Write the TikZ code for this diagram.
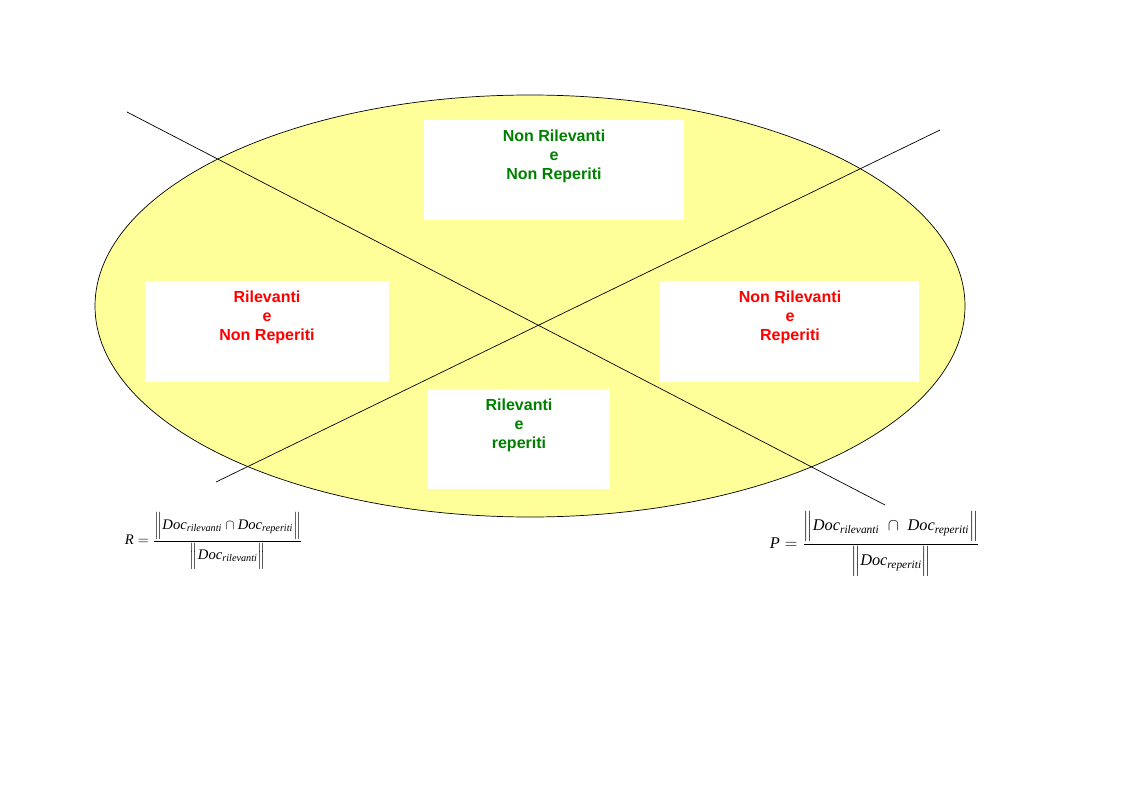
\documentclass[tikz,border=0pt]{standalone}
\usepackage{amsmath,amssymb}
\usepackage{fontspec}
\setsansfont{Liberation Sans}
\newfontfamily\formfont{Liberation Serif}
\usepackage{tikz}
\definecolor{ColFill}{RGB}{255,255,153}
\definecolor{ColGreen}{RGB}{0,128,0}
\definecolor{ColRed}{RGB}{255,0,0}
\tikzstyle{SetArea}=[draw=black,fill=ColFill,line width=0.5pt]
\tikzstyle{CutLine}=[black,line width=0.5pt]
\tikzstyle{QuadBox}=[fill=white,inner sep=0pt,anchor=north west]
\tikzstyle{QuadText}=[align=center,anchor=north,inner sep=0pt,
font=\sffamily\bfseries\fontsize{11.4}{13.5}\selectfont]
\tikzstyle{Formula}=[inner sep=0pt]
\newcommand{\Dset}[1]{\text{\formfont\itshape Doc}_{\text{\formfont\itshape #1}}}
\newcommand{\Vsym}[1]{\text{\formfont\itshape #1}}

\begin{document}
\begin{tikzpicture}[x=0.025cm,y=-0.025cm]
        \useasboundingbox[fill=white](0,0)rectangle(1123,794);
        \draw[SetArea](530,306)ellipse[x radius=435,y radius=211];
        \coordinate(l1a)at(127,112);
        \coordinate(l1b)at(885,505);
        \coordinate(l2a)at(216,482);
        \coordinate(l2b)at(940,130);
        \draw[CutLine](l1a)--(l1b);
        \draw[CutLine](l2a)--(l2b);
        \node[QuadBox,minimum width=260*0.025cm,minimum height=100*0.025cm](top)at(424,120){};
        \node[QuadBox,minimum width=244*0.025cm,minimum height=101*0.025cm](left)at(145,281){};
        \node[QuadBox,minimum width=259*0.025cm,minimum height=101*0.025cm](right)at(660,281){};
        \node[QuadBox,minimum width=182*0.025cm,minimum height=100*0.025cm](bottom)at(428,389){};
        \node[QuadText,text=ColGreen](toptext)at(554,130){Non Rilevanti\\e\\Non Reperiti};
        \node[QuadText,text=ColRed](lefttext)at(267,291){Rilevanti\\e\\Non Reperiti};
        \node[QuadText,text=ColRed](righttext)at(790,291){Non Rilevanti\\e\\Reperiti};
        \node[QuadText,text=ColGreen](bottomtext)at(519,399){Rilevanti\\e\\reperiti};
        \node[Formula,font=\fontsize{10.4}{12}\selectfont](recall)at(214,541){$\Vsym{R}=\dfrac{\Big\|\Dset{rilevanti}\cap\Dset{reperiti}\Big\|}{\Big\|\Dset{rilevanti}\Big\|}$};
        \node[Formula,font=\fontsize{11.6}{14}\selectfont](precision)at(875,544){$\Vsym{P}=\dfrac{\Big\|\Dset{rilevanti}\;\cap\;\Dset{reperiti}\Big\|}{\Big\|\Dset{reperiti}\Big\|}$};
    \end{tikzpicture}
\end{document}
